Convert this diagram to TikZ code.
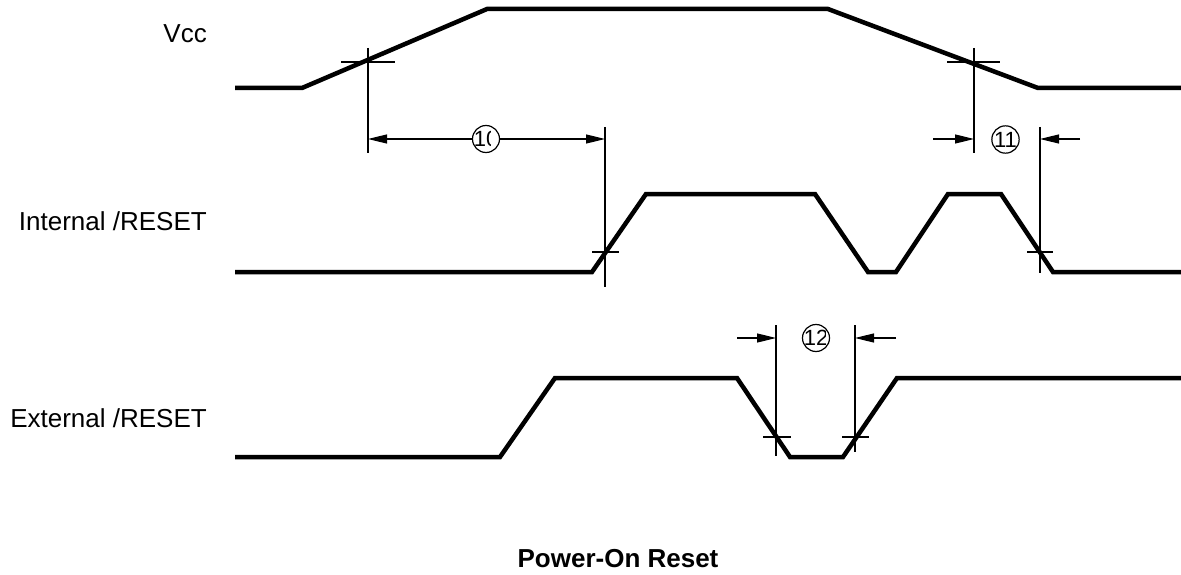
\documentclass[tikz,border=0pt]{standalone}
\usepackage{fontspec}
\setmainfont{Liberation Sans}
\usetikzlibrary{arrows.meta}
\begin{document}
\begin{tikzpicture}[x=1pt,y=-1pt,
  wave/.style={line width=4.5pt, line join=miter},
  thinline/.style={line width=1.2pt},
  dimarrow/.style={line width=1.2pt, -{Triangle[length=19pt,width=9pt]}},
  lbl/.style={anchor=base east, inner sep=0pt, font=\fontsize{26}{30}\selectfont},
  numcircle/.style={circle, draw, line width=1.2pt, minimum size=27pt, inner sep=0pt},
  numtext/.style={inner sep=0pt, font=\fontsize{22}{24}\selectfont}]
\useasboundingbox (0,0) rectangle (1181,575);

% labels
\node[lbl] (lvcc) at (207,43) {Vcc};
\node[lbl] (lint) at (207,230) {Internal /RESET};
\node[lbl] (lext) at (207,427) {External /RESET};
\node[anchor=base, inner sep=0pt, font=\fontsize{26}{30}\selectfont\bfseries] (title) at (618,567) {Power-On Reset};

% waveforms
\draw[wave] (235,88) -- (302,88) -- (487,9) -- (828,9) -- (1038,88) -- (1181,88);
\draw[wave] (235,272) -- (592,272) -- (646,194) -- (815,194) -- (868,272) -- (896,272)
  -- (948,194) -- (1001,194) -- (1053,272) -- (1181,272);
\draw[wave] (235,457) -- (500,457) -- (555,378) -- (737,378) -- (790,457) -- (843,457)
  -- (897,378) -- (1181,378);

% reference lines and ticks
\coordinate (v1t) at (368,48);  \coordinate (v1b) at (368,153);
\coordinate (v2t) at (605,127); \coordinate (v2b) at (605,287);
\coordinate (v3t) at (974,48);  \coordinate (v3b) at (974,153);
\coordinate (v4t) at (1040,127);\coordinate (v4b) at (1040,273);
\coordinate (v5t) at (776,325); \coordinate (v5b) at (776,456);
\coordinate (v6t) at (855,325); \coordinate (v6b) at (855,452);
\draw[thinline] (v1t) -- (v1b);
\draw[thinline] (v2t) -- (v2b);
\draw[thinline] (v3t) -- (v3b);
\draw[thinline] (v4t) -- (v4b);
\draw[thinline] (v5t) -- (v5b);
\draw[thinline] (v6t) -- (v6b);
\coordinate (t1a) at (341,62);  \coordinate (t1b) at (395,62);
\coordinate (t2a) at (592,252); \coordinate (t2b) at (619,252);
\coordinate (t3a) at (947,62);  \coordinate (t3b) at (1000,62);
\coordinate (t4a) at (1027,252);\coordinate (t4b) at (1053,252);
\coordinate (t5a) at (763,437); \coordinate (t5b) at (791,437);
\coordinate (t6a) at (842,437); \coordinate (t6b) at (869,437);
\draw[thinline] (t1a) -- (t1b);
\draw[thinline] (t2a) -- (t2b);
\draw[thinline] (t3a) -- (t3b);
\draw[thinline] (t4a) -- (t4b);
\draw[thinline] (t5a) -- (t5b);
\draw[thinline] (t6a) -- (t6b);

% (10)
\node[numcircle] (c10) at (486,139) {};
\begin{scope}
  \clip (470,120) rectangle (490,160);
  \node[numtext] (n10) at (486,139) {10};
\end{scope}
\coordinate (a10l) at (368,139);
\coordinate (a10r) at (605,139);
\draw[dimarrow] (c10.west) -- (a10l);
\draw[dimarrow] (c10.east) -- (a10r);

% (11)
\node[numcircle, numtext] (c11) at (1005.5,139.5) {11};
\coordinate (a11ls) at (933,139); \coordinate (a11le) at (974,139);
\coordinate (a11rs) at (1080,139); \coordinate (a11re) at (1040,139);
\draw[dimarrow] (a11ls) -- (a11le);
\draw[dimarrow] (a11rs) -- (a11re);

% (12)
\node[numcircle] (c12) at (816,338) {};
\begin{scope}
  \clip (800,320) rectangle (825,356);
  \node[numtext] (n12) at (816,338) {12};
\end{scope}
\coordinate (a12ls) at (737,338); \coordinate (a12le) at (776,338);
\coordinate (a12rs) at (896,338); \coordinate (a12re) at (855,338);
\draw[dimarrow] (a12ls) -- (a12le);
\draw[dimarrow] (a12rs) -- (a12re);
\end{tikzpicture}
\end{document}
